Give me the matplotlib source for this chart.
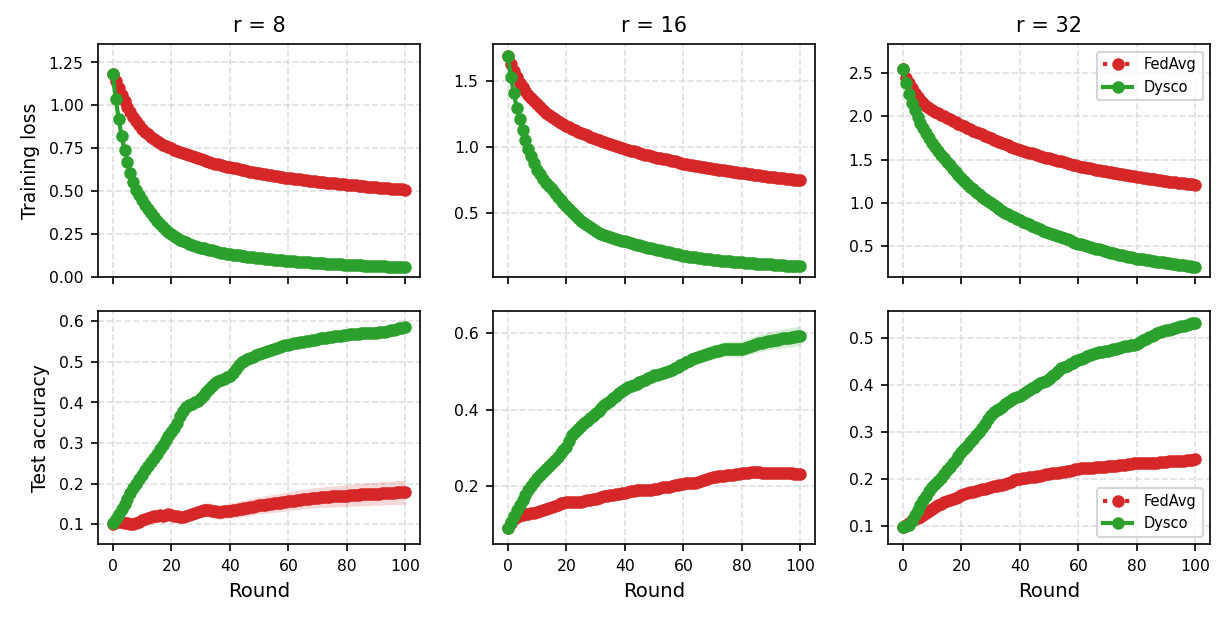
import numpy as np
import matplotlib
matplotlib.use("Agg")
import matplotlib.pyplot as plt

rounds = list(range(101))
ranks = [8, 16, 32]

# training loss
fedavg_loss_r8 = [
    1.180, 1.140, 1.100, 1.060, 1.025, 0.990, 0.960, 0.932, 0.907, 0.885, 0.865,
    0.848, 0.832, 0.818, 0.805, 0.793, 0.782, 0.772, 0.763, 0.756, 0.750,
    0.743, 0.736, 0.729, 0.722, 0.716, 0.710, 0.704, 0.698, 0.692, 0.686,
    0.681, 0.676, 0.671, 0.666, 0.661, 0.657, 0.652, 0.648, 0.644, 0.640,
    0.636, 0.633, 0.629, 0.626, 0.622, 0.619, 0.615, 0.612, 0.608, 0.605,
    0.602, 0.599, 0.596, 0.594, 0.591, 0.588, 0.585, 0.583, 0.580, 0.577,
    0.575, 0.573, 0.571, 0.569, 0.567, 0.565, 0.563, 0.561, 0.559, 0.557,
    0.555, 0.553, 0.551, 0.549, 0.548, 0.546, 0.544, 0.542, 0.541, 0.539,
    0.537, 0.535, 0.534, 0.532, 0.530, 0.529, 0.527, 0.526, 0.524, 0.523,
    0.521, 0.520, 0.519, 0.517, 0.516, 0.515, 0.514, 0.512, 0.511, 0.510,
]
dysco_loss_r8 = [
    1.180, 1.035, 0.920, 0.820, 0.740, 0.672, 0.608, 0.552, 0.510, 0.478, 0.450,
    0.422, 0.396, 0.372, 0.350, 0.329, 0.310, 0.293, 0.277, 0.262, 0.249,
    0.238, 0.228, 0.219, 0.211, 0.203, 0.196, 0.190, 0.184, 0.178, 0.173,
    0.168, 0.164, 0.160, 0.156, 0.152, 0.148, 0.144, 0.141, 0.138, 0.135,
    0.132, 0.129, 0.127, 0.124, 0.122, 0.120, 0.118, 0.116, 0.114, 0.112,
    0.110, 0.108, 0.106, 0.105, 0.103, 0.101, 0.100, 0.098, 0.097, 0.095,
    0.094, 0.092, 0.091, 0.090, 0.088, 0.087, 0.086, 0.085, 0.084, 0.083,
    0.082, 0.081, 0.080, 0.079, 0.078, 0.077, 0.076, 0.075, 0.074, 0.073,
    0.072, 0.071, 0.070, 0.070, 0.069, 0.068, 0.067, 0.066, 0.066, 0.065,
    0.064, 0.063, 0.063, 0.062, 0.061, 0.061, 0.060, 0.059, 0.059, 0.058,
]
fedavg_loss_r16 = [
    1.690, 1.630, 1.575, 1.530, 1.490, 1.455, 1.425, 1.395, 1.370, 1.347, 1.325,
    1.302, 1.281, 1.262, 1.245, 1.229, 1.214, 1.200, 1.187, 1.175, 1.163,
    1.151, 1.140, 1.129, 1.118, 1.108, 1.098, 1.089, 1.080, 1.071, 1.062,
    1.054, 1.046, 1.038, 1.030, 1.022, 1.014, 1.007, 1.000, 0.993, 0.986,
    0.980, 0.974, 0.968, 0.962, 0.956, 0.950, 0.944, 0.939, 0.933, 0.927,
    0.922, 0.917, 0.912, 0.907, 0.902, 0.897, 0.892, 0.887, 0.881, 0.876,
    0.872, 0.868, 0.864, 0.860, 0.856, 0.852, 0.848, 0.844, 0.840, 0.836,
    0.833, 0.830, 0.827, 0.824, 0.821, 0.818, 0.814, 0.811, 0.808, 0.805,
    0.802, 0.799, 0.796, 0.793, 0.790, 0.787, 0.784, 0.781, 0.778, 0.775,
    0.772, 0.770, 0.767, 0.764, 0.761, 0.759, 0.756, 0.753, 0.751, 0.748,
]
dysco_loss_r16 = [
    1.690, 1.535, 1.413, 1.300, 1.210, 1.130, 1.058, 0.990, 0.935, 0.880, 0.830,
    0.795, 0.762, 0.732, 0.705, 0.680, 0.652, 0.626, 0.601, 0.577, 0.553,
    0.530, 0.508, 0.486, 0.464, 0.443, 0.425, 0.408, 0.392, 0.377, 0.363,
    0.354, 0.345, 0.337, 0.329, 0.321, 0.314, 0.306, 0.299, 0.292, 0.286,
    0.280, 0.274, 0.268, 0.262, 0.256, 0.250, 0.245, 0.239, 0.234, 0.228,
    0.223, 0.218, 0.213, 0.208, 0.203, 0.198, 0.193, 0.188, 0.183, 0.178,
    0.175, 0.172, 0.169, 0.166, 0.163, 0.160, 0.157, 0.154, 0.151, 0.148,
    0.146, 0.144, 0.141, 0.139, 0.137, 0.135, 0.133, 0.131, 0.129, 0.127,
    0.125, 0.124, 0.122, 0.121, 0.119, 0.118, 0.116, 0.115, 0.113, 0.112,
    0.110, 0.109, 0.107, 0.106, 0.104, 0.103, 0.102, 0.100, 0.099, 0.097,
]
fedavg_loss_r32 = [
    2.550, 2.450, 2.390, 2.330, 2.270, 2.220, 2.185, 2.155, 2.125, 2.098, 2.074,
    2.055, 2.037, 2.019, 2.001, 1.983, 1.965, 1.948, 1.931, 1.915, 1.900,
    1.884, 1.868, 1.852, 1.836, 1.821, 1.806, 1.791, 1.776, 1.761, 1.746,
    1.732, 1.718, 1.704, 1.690, 1.677, 1.664, 1.651, 1.638, 1.624, 1.610,
    1.600, 1.590, 1.580, 1.571, 1.562, 1.552, 1.543, 1.533, 1.524, 1.514,
    1.505, 1.496, 1.487, 1.478, 1.469, 1.460, 1.451, 1.442, 1.433, 1.425,
    1.418, 1.411, 1.404, 1.398, 1.391, 1.384, 1.378, 1.371, 1.365, 1.358,
    1.352, 1.346, 1.340, 1.334, 1.328, 1.323, 1.317, 1.311, 1.306, 1.300,
    1.295, 1.290, 1.285, 1.280, 1.275, 1.270, 1.265, 1.260, 1.255, 1.250,
    1.245, 1.240, 1.236, 1.232, 1.228, 1.224, 1.220, 1.216, 1.212, 1.208,
]
dysco_loss_r32 = [
    2.550, 2.384, 2.260, 2.152, 2.070, 1.990, 1.925, 1.865, 1.810, 1.750, 1.690,
    1.645, 1.600, 1.556, 1.514, 1.474, 1.435, 1.396, 1.358, 1.320, 1.282,
    1.250, 1.218, 1.187, 1.157, 1.127, 1.098, 1.070, 1.043, 1.017, 0.992,
    0.970, 0.948, 0.927, 0.906, 0.886, 0.867, 0.849, 0.831, 0.814, 0.798,
    0.782, 0.766, 0.751, 0.736, 0.721, 0.707, 0.692, 0.678, 0.664, 0.651,
    0.638, 0.625, 0.612, 0.599, 0.587, 0.575, 0.563, 0.551, 0.539, 0.528,
    0.518, 0.508, 0.498, 0.488, 0.478, 0.468, 0.459, 0.449, 0.440, 0.431,
    0.423, 0.415, 0.407, 0.399, 0.391, 0.383, 0.375, 0.368, 0.360, 0.353,
    0.348, 0.343, 0.337, 0.332, 0.327, 0.322, 0.318, 0.313, 0.308, 0.303,
    0.298, 0.293, 0.288, 0.283, 0.279, 0.274, 0.269, 0.265, 0.260, 0.256,
]

# test accuracy
fedavg_acc_r8 = [
    0.100, 0.104, 0.105, 0.104, 0.103, 0.102, 0.101, 0.101, 0.103, 0.106, 0.109,
    0.112, 0.115, 0.117, 0.119, 0.121, 0.122, 0.121, 0.122, 0.124, 0.123,
    0.121, 0.119, 0.118, 0.117, 0.119, 0.122, 0.125, 0.128, 0.130, 0.132,
    0.134, 0.135, 0.135, 0.133, 0.131, 0.130, 0.130, 0.131, 0.132, 0.133,
    0.134, 0.135, 0.136, 0.138, 0.139, 0.140, 0.142, 0.143, 0.145, 0.146,
    0.147, 0.148, 0.149, 0.150, 0.151, 0.152, 0.153, 0.154, 0.155, 0.156,
    0.157, 0.158, 0.159, 0.160, 0.161, 0.162, 0.163, 0.164, 0.165, 0.165,
    0.166, 0.166, 0.167, 0.167, 0.168, 0.168, 0.169, 0.169, 0.170, 0.170,
    0.171, 0.171, 0.172, 0.172, 0.173, 0.173, 0.174, 0.174, 0.175, 0.175,
    0.175, 0.176, 0.176, 0.177, 0.177, 0.177, 0.178, 0.178, 0.178, 0.179,
]
dysco_acc_r8 = [
    0.102, 0.112, 0.124, 0.137, 0.150, 0.163, 0.176, 0.188, 0.199, 0.210, 0.222,
    0.233, 0.243, 0.252, 0.262, 0.274, 0.285, 0.296, 0.307, 0.318, 0.328,
    0.338, 0.350, 0.366, 0.380, 0.388, 0.393, 0.397, 0.400, 0.404, 0.410,
    0.418, 0.426, 0.434, 0.441, 0.447, 0.452, 0.456, 0.459, 0.462, 0.466,
    0.472, 0.482, 0.492, 0.499, 0.503, 0.507, 0.510, 0.513, 0.516, 0.519,
    0.521, 0.524, 0.527, 0.530, 0.532, 0.534, 0.537, 0.539, 0.541, 0.543,
    0.545, 0.546, 0.547, 0.548, 0.549, 0.551, 0.552, 0.554, 0.555, 0.557,
    0.558, 0.559, 0.560, 0.561, 0.562, 0.563, 0.564, 0.565, 0.566, 0.567,
    0.568, 0.569, 0.570, 0.570, 0.571, 0.571, 0.571, 0.571, 0.571, 0.572,
    0.573, 0.574, 0.575, 0.577, 0.578, 0.580, 0.581, 0.583, 0.584, 0.585,
]
fedavg_acc_r16 = [
    0.091, 0.104, 0.113, 0.119, 0.123, 0.125, 0.126, 0.127, 0.128, 0.130, 0.132,
    0.134, 0.136, 0.139, 0.142, 0.145, 0.148, 0.151, 0.154, 0.156, 0.157,
    0.157, 0.157, 0.157, 0.157, 0.158, 0.160, 0.162, 0.164, 0.166, 0.167,
    0.169, 0.171, 0.173, 0.174, 0.176, 0.177, 0.178, 0.179, 0.181, 0.182,
    0.184, 0.186, 0.188, 0.189, 0.190, 0.189, 0.189, 0.189, 0.190, 0.191,
    0.192, 0.194, 0.196, 0.197, 0.198, 0.200, 0.202, 0.203, 0.205, 0.206,
    0.207, 0.208, 0.208, 0.209, 0.210, 0.212, 0.215, 0.218, 0.221, 0.223,
    0.224, 0.225, 0.226, 0.227, 0.228, 0.229, 0.230, 0.231, 0.232, 0.233,
    0.234, 0.235, 0.236, 0.237, 0.237, 0.236, 0.235, 0.234, 0.234, 0.233,
    0.233, 0.234, 0.235, 0.235, 0.235, 0.234, 0.233, 0.232, 0.232, 0.231,
]
dysco_acc_r16 = [
    0.091, 0.106, 0.121, 0.136, 0.150, 0.163, 0.177, 0.189, 0.200, 0.210, 0.220,
    0.228, 0.236, 0.244, 0.252, 0.260, 0.268, 0.277, 0.286, 0.294, 0.302,
    0.318, 0.334, 0.342, 0.350, 0.358, 0.364, 0.370, 0.377, 0.384, 0.391,
    0.397, 0.404, 0.411, 0.418, 0.424, 0.431, 0.437, 0.443, 0.449, 0.455,
    0.459, 0.462, 0.465, 0.468, 0.472, 0.476, 0.479, 0.482, 0.486, 0.490,
    0.492, 0.494, 0.497, 0.499, 0.501, 0.505, 0.509, 0.513, 0.517, 0.520,
    0.524, 0.528, 0.532, 0.535, 0.539, 0.541, 0.544, 0.546, 0.549, 0.551,
    0.553, 0.555, 0.557, 0.558, 0.559, 0.559, 0.559, 0.559, 0.559, 0.560,
    0.562, 0.565, 0.567, 0.570, 0.572, 0.574, 0.576, 0.578, 0.580, 0.581,
    0.583, 0.584, 0.585, 0.587, 0.588, 0.589, 0.590, 0.591, 0.593, 0.594,
]
fedavg_acc_r32 = [
    0.097, 0.101, 0.106, 0.111, 0.114, 0.117, 0.119, 0.122, 0.126, 0.131, 0.136,
    0.139, 0.143, 0.147, 0.150, 0.153, 0.155, 0.157, 0.160, 0.162, 0.165,
    0.167, 0.169, 0.171, 0.172, 0.174, 0.176, 0.178, 0.179, 0.181, 0.183,
    0.184, 0.185, 0.186, 0.187, 0.188, 0.191, 0.194, 0.197, 0.199, 0.200,
    0.201, 0.202, 0.203, 0.204, 0.204, 0.205, 0.207, 0.208, 0.210, 0.211,
    0.212, 0.212, 0.213, 0.214, 0.214, 0.216, 0.217, 0.219, 0.221, 0.222,
    0.223, 0.223, 0.224, 0.224, 0.224, 0.225, 0.225, 0.226, 0.226, 0.227,
    0.227, 0.228, 0.228, 0.229, 0.229, 0.230, 0.231, 0.232, 0.233, 0.233,
    0.233, 0.233, 0.233, 0.233, 0.233, 0.234, 0.234, 0.235, 0.235, 0.236,
    0.237, 0.237, 0.238, 0.238, 0.239, 0.239, 0.240, 0.241, 0.241, 0.242,
]
dysco_acc_r32 = [
    0.097, 0.099, 0.102, 0.110, 0.122, 0.134, 0.144, 0.154, 0.164, 0.173, 0.182,
    0.188, 0.195, 0.202, 0.210, 0.218, 0.226, 0.234, 0.241, 0.249, 0.257,
    0.264, 0.271, 0.278, 0.286, 0.293, 0.301, 0.309, 0.318, 0.327, 0.336,
    0.342, 0.347, 0.350, 0.354, 0.360, 0.365, 0.369, 0.372, 0.375, 0.378,
    0.381, 0.385, 0.389, 0.393, 0.396, 0.400, 0.404, 0.407, 0.410, 0.414,
    0.419, 0.425, 0.431, 0.436, 0.439, 0.442, 0.445, 0.448, 0.451, 0.453,
    0.456, 0.459, 0.462, 0.464, 0.467, 0.468, 0.470, 0.471, 0.473, 0.474,
    0.475, 0.477, 0.478, 0.480, 0.481, 0.483, 0.484, 0.486, 0.487, 0.489,
    0.492, 0.496, 0.499, 0.503, 0.506, 0.508, 0.511, 0.513, 0.515, 0.517,
    0.519, 0.521, 0.522, 0.524, 0.526, 0.527, 0.529, 0.530, 0.532, 0.533,
]

# spread across seeds (only where it shows outside the line)
std_fedavg_acc_r8 = [
    0.006, 0.007, 0.008, 0.008, 0.009, 0.009, 0.010, 0.010, 0.010, 0.011, 0.011,
    0.011, 0.012, 0.012, 0.012, 0.013, 0.013, 0.013, 0.013, 0.014, 0.014,
    0.014, 0.014, 0.015, 0.015, 0.015, 0.015, 0.016, 0.016, 0.016, 0.016,
    0.017, 0.017, 0.017, 0.017, 0.018, 0.018, 0.018, 0.018, 0.019, 0.019,
    0.019, 0.019, 0.020, 0.020, 0.020, 0.020, 0.021, 0.021, 0.021, 0.021,
    0.021, 0.022, 0.022, 0.022, 0.022, 0.022, 0.023, 0.023, 0.023, 0.023,
    0.023, 0.024, 0.024, 0.024, 0.024, 0.024, 0.025, 0.025, 0.025, 0.025,
    0.025, 0.025, 0.026, 0.026, 0.026, 0.026, 0.026, 0.026, 0.027, 0.027,
    0.027, 0.027, 0.027, 0.027, 0.028, 0.028, 0.028, 0.028, 0.028, 0.028,
    0.029, 0.029, 0.029, 0.029, 0.029, 0.029, 0.030, 0.030, 0.030, 0.030,
]
std_dysco_acc_r16 = [
    0.002, 0.003, 0.003, 0.003, 0.004, 0.004, 0.004, 0.004, 0.005, 0.005, 0.005,
    0.005, 0.005, 0.006, 0.006, 0.006, 0.006, 0.006, 0.007, 0.007, 0.007,
    0.007, 0.007, 0.008, 0.008, 0.008, 0.008, 0.008, 0.009, 0.009, 0.009,
    0.009, 0.009, 0.010, 0.010, 0.010, 0.010, 0.011, 0.011, 0.011, 0.011,
    0.012, 0.012, 0.012, 0.012, 0.013, 0.013, 0.013, 0.013, 0.014, 0.014,
    0.014, 0.014, 0.015, 0.015, 0.015, 0.015, 0.016, 0.016, 0.016, 0.016,
    0.017, 0.017, 0.017, 0.017, 0.018, 0.018, 0.018, 0.018, 0.019, 0.019,
    0.019, 0.019, 0.020, 0.020, 0.020, 0.020, 0.021, 0.021, 0.021, 0.021,
    0.022, 0.022, 0.022, 0.022, 0.023, 0.023, 0.023, 0.023, 0.024, 0.024,
    0.024, 0.024, 0.025, 0.025, 0.025, 0.025, 0.026, 0.026, 0.026, 0.026,
]
std_fedavg_loss_r16 = [
    0.010, 0.015, 0.018, 0.020, 0.022, 0.024, 0.026, 0.027, 0.028, 0.029, 0.030,
    0.031, 0.032, 0.033, 0.034, 0.035, 0.036, 0.036, 0.037, 0.038, 0.038,
    0.039, 0.039, 0.040, 0.040, 0.041, 0.041, 0.042, 0.042, 0.042, 0.043,
    0.043, 0.043, 0.044, 0.044, 0.044, 0.044, 0.045, 0.045, 0.045, 0.045,
    0.045, 0.046, 0.046, 0.046, 0.046, 0.046, 0.046, 0.047, 0.047, 0.047,
    0.047, 0.047, 0.047, 0.047, 0.048, 0.048, 0.048, 0.048, 0.048, 0.048,
    0.048, 0.048, 0.048, 0.048, 0.048, 0.048, 0.048, 0.048, 0.048, 0.048,
    0.047, 0.047, 0.047, 0.047, 0.047, 0.047, 0.047, 0.047, 0.046, 0.046,
    0.046, 0.046, 0.046, 0.046, 0.045, 0.045, 0.045, 0.045, 0.045, 0.044,
    0.044, 0.044, 0.044, 0.043, 0.043, 0.043, 0.043, 0.042, 0.042, 0.042,
]
std_dysco_acc_r8 = [
    0.002, 0.002, 0.003, 0.003, 0.003, 0.003, 0.004, 0.004, 0.004, 0.004, 0.004,
    0.004, 0.004, 0.005, 0.005, 0.005, 0.005, 0.005, 0.005, 0.005, 0.005,
    0.006, 0.006, 0.006, 0.006, 0.006, 0.006, 0.006, 0.006, 0.006, 0.006,
    0.007, 0.007, 0.007, 0.007, 0.007, 0.008, 0.008, 0.008, 0.009, 0.009,
    0.010, 0.011, 0.012, 0.013, 0.013, 0.014, 0.014, 0.014, 0.014, 0.013,
    0.013, 0.012, 0.012, 0.011, 0.010, 0.010, 0.009, 0.009, 0.008, 0.008,
    0.008, 0.007, 0.007, 0.007, 0.007, 0.007, 0.007, 0.007, 0.007, 0.007,
    0.007, 0.007, 0.007, 0.007, 0.007, 0.007, 0.007, 0.007, 0.007, 0.007,
    0.007, 0.007, 0.007, 0.007, 0.007, 0.007, 0.007, 0.007, 0.007, 0.007,
    0.007, 0.007, 0.007, 0.007, 0.007, 0.007, 0.007, 0.007, 0.007, 0.007,
]

loss_fedavg = [fedavg_loss_r8, fedavg_loss_r16, fedavg_loss_r32]
loss_dysco = [dysco_loss_r8, dysco_loss_r16, dysco_loss_r32]
acc_fedavg = [fedavg_acc_r8, fedavg_acc_r16, fedavg_acc_r32]
acc_dysco = [dysco_acc_r8, dysco_acc_r16, dysco_acc_r32]
loss_fedavg_std = [None, std_fedavg_loss_r16, None]
loss_dysco_std = [None, None, None]
acc_fedavg_std = [std_fedavg_acc_r8, None, None]
acc_dysco_std = [std_dysco_acc_r8, std_dysco_acc_r16, None]

loss_ylims = [(0.0, 1.356), (0.015, 1.78), (0.137, 2.836)]
acc_ylims = [(0.050, 0.625), (0.047, 0.658), (0.060, 0.558)]

RED = "#d62728"
GREEN = "#2ca02c"

fig, axes = plt.subplots(2, 3, figsize=(8.187, 4.147), dpi=150, sharex=True)
fig.subplots_adjust(left=0.080, right=0.9853, top=0.9288, bottom=0.1249,
                    wspace=0.228, hspace=0.146)


def draw(ax, fed, dys, fed_std, dys_std):
    x = np.array(rounds)
    ax.plot(x, fed, color=RED, linestyle=":", marker="o", ms=5, lw=2,
            label="FedAvg", zorder=3)
    if fed_std is not None:
        m, s = np.array(fed), np.array(fed_std)
        ax.fill_between(x, m - s, m + s, color=RED, alpha=0.18, lw=0, zorder=2)
    ax.plot(x, dys, color=GREEN, linestyle="-", marker="o", ms=5, lw=2,
            label="Dysco", zorder=4)
    if dys_std is not None:
        m, s = np.array(dys), np.array(dys_std)
        ax.fill_between(x, m - s, m + s, color=GREEN, alpha=0.18, lw=0, zorder=2)
    ax.grid(True, linestyle="--", color="#cccccc", alpha=0.6, lw=0.8)
    ax.tick_params(labelsize=7.5)
    ax.set_xticks([0, 20, 40, 60, 80, 100])


for j, r in enumerate(ranks):
    top = axes[0, j]
    bot = axes[1, j]
    draw(top, loss_fedavg[j], loss_dysco[j], loss_fedavg_std[j], loss_dysco_std[j])
    draw(bot, acc_fedavg[j], acc_dysco[j], acc_fedavg_std[j], acc_dysco_std[j])
    top.set_ylim(*loss_ylims[j])
    bot.set_ylim(*acc_ylims[j])
    top.set_title(f"r = {r}", fontsize=10)
    bot.set_xlabel("Round", fontsize=9.5)

axes[0, 0].set_yticks([0.0, 0.25, 0.5, 0.75, 1.0, 1.25])
axes[0, 1].set_yticks([0.5, 1.0, 1.5])
axes[0, 2].set_yticks([0.5, 1.0, 1.5, 2.0, 2.5])
axes[1, 0].set_yticks([0.1, 0.2, 0.3, 0.4, 0.5, 0.6])
axes[1, 1].set_yticks([0.2, 0.4, 0.6])
axes[1, 2].set_yticks([0.1, 0.2, 0.3, 0.4, 0.5])

axes[0, 0].set_ylabel("Training loss", fontsize=9)
axes[1, 0].set_ylabel("Test accuracy", fontsize=9)

axes[0, 2].legend(loc="upper right", fontsize=7)
axes[1, 2].legend(loc="lower right", fontsize=7)

fig.savefig("out.png", dpi=150)
